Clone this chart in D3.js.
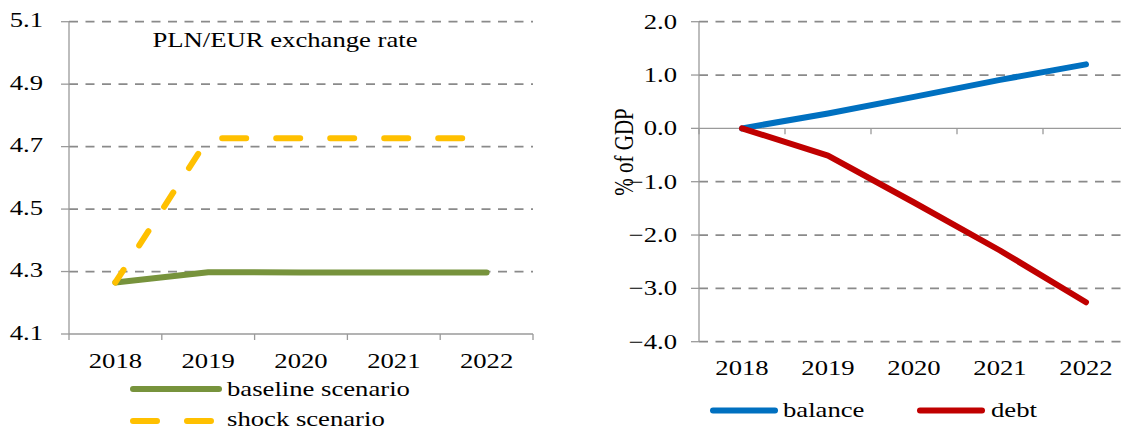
<!DOCTYPE html>
<html><head><meta charset="utf-8">
<script src="https://cdn.jsdelivr.net/npm/d3@7"></script>
<style>
html,body{margin:0;padding:0;background:#fff;}
svg{display:block;font-family:"Liberation Serif","Times New Roman",serif;}
</style></head>
<body>
<svg id="chart" width="1121" height="430"></svg>
<script>
// ---- data ----
const years = ["2018","2019","2020","2021","2022"];
const baseline = [4.265, 4.298, 4.297, 4.297, 4.297];
const shock = [4.265, 4.727, 4.727, 4.727, 4.727];
const leftTicks = [4.1, 4.3, 4.5, 4.7, 4.9, 5.1];
const balance = [0.0, 0.28, 0.59, 0.91, 1.2];
const debt = [0.0, -0.51, -1.39, -2.29, -3.26];
const rightTicks = [-4, -3, -2, -1, 0, 1, 2];

const svg = d3.select("#chart");
const SX = 1.27, FS = 21;
const gridColor = "#8a8a8a", axisColor = "#9a9a9a";

function stext(g, x, y, str, anchor, rot) {
  const gg = g.append("g").attr("transform", `translate(${x},${y}) scale(${SX},1)` + (rot ? ` rotate(${rot})` : ""));
  gg.append("text").attr("text-anchor", anchor || "start").attr("font-size", FS).attr("fill", "#000").text(str);
  return gg;
}

// ---- left chart ----
const L = svg.append("g");
const xL = d3.scaleBand().domain(years).range([69, 533]);
const yL = d3.scaleLinear().domain([4.1, 5.1]).range([334, 21.7]);
const cxL = d => xL(d) + xL.bandwidth() / 2;

L.selectAll(".grid").data(leftTicks.filter(t => t > 4.1)).join("line")
  .attr("x1", 69).attr("x2", 533).attr("y1", d => yL(d)).attr("y2", d => yL(d))
  .attr("stroke", gridColor).attr("stroke-width", 1.8).attr("stroke-dasharray", "9,7.5");
L.append("line").attr("x1", 69).attr("x2", 69).attr("y1", yL(5.1)).attr("y2", yL(4.1))
  .attr("stroke", axisColor).attr("stroke-width", 1.3);
L.selectAll(".yt").data(leftTicks).join("line")
  .attr("x1", 61).attr("x2", 69).attr("y1", d => yL(d)).attr("y2", d => yL(d))
  .attr("stroke", axisColor).attr("stroke-width", 1.3);
leftTicks.forEach(t => stext(L, 43, yL(t) + 5.5, d3.format(".1f")(t), "end"));
L.append("line").attr("x1", 69).attr("x2", 533).attr("y1", yL(4.1)).attr("y2", yL(4.1))
  .attr("stroke", axisColor).attr("stroke-width", 1.3);
const bL = years.map(y => xL(y)).concat([xL.range()[1]]);
L.selectAll(".xt").data(bL).join("line")
  .attr("x1", d => d).attr("x2", d => d).attr("y1", yL(4.1)).attr("y2", yL(4.1) + 6)
  .attr("stroke", axisColor).attr("stroke-width", 1.3);
years.forEach(y => stext(L, cxL(y), 368, y, "middle"));

stext(L, 285, 46.5, "PLN/EUR exchange rate", "middle");

const lineL = d3.line().x(d => cxL(d[0])).y(d => yL(d[1]));
const basePts = years.map((y, i) => [y, baseline[i]]);
const shockPts = years.map((y, i) => [y, shock[i]]);
L.append("path").attr("d", lineL(basePts)).attr("fill", "none")
  .attr("stroke", "#77933C").attr("stroke-width", 6).attr("stroke-linecap", "round").attr("stroke-linejoin", "round");
L.append("path").attr("d", lineL(shockPts.slice(0, 2))).attr("fill", "none")
  .attr("stroke", "#FFC000").attr("stroke-width", 6).attr("stroke-linecap", "round")
  .attr("stroke-dasharray", "17,29").attr("stroke-dashoffset", 2);
L.append("path").attr("d", lineL(shockPts.slice(1))).attr("fill", "none")
  .attr("stroke", "#FFC000").attr("stroke-width", 6).attr("stroke-linecap", "round")
  .attr("stroke-dasharray", "24,30").attr("stroke-dashoffset", 40);

L.append("line").attr("x1", 133).attr("x2", 219).attr("y1", 389).attr("y2", 389)
  .attr("stroke", "#77933C").attr("stroke-width", 6).attr("stroke-linecap", "round");
stext(L, 227, 396, "baseline scenario", "start");
L.append("line").attr("x1", 133).attr("x2", 219).attr("y1", 421).attr("y2", 421)
  .attr("stroke", "#FFC000").attr("stroke-width", 6).attr("stroke-linecap", "round")
  .attr("stroke-dasharray", "24,30");
stext(L, 227, 426, "shock scenario", "start");

// ---- right chart ----
const R = svg.append("g");
const xR = d3.scaleBand().domain(years).range([699, 1129]);
const yR = d3.scaleLinear().domain([-4, 2]).range([341.7, 21.7]);
const cxR = d => xR(d) + xR.bandwidth() / 2;

R.selectAll(".grid").data(rightTicks.filter(t => t !== 0)).join("line")
  .attr("x1", 699).attr("x2", 1129).attr("y1", d => yR(d)).attr("y2", d => yR(d))
  .attr("stroke", gridColor).attr("stroke-width", 1.8).attr("stroke-dasharray", "9,7.5");
R.append("line").attr("x1", 699).attr("x2", 699).attr("y1", yR(2)).attr("y2", yR(-4))
  .attr("stroke", axisColor).attr("stroke-width", 1.3);
R.selectAll(".yt").data(rightTicks).join("line")
  .attr("x1", 691).attr("x2", 699).attr("y1", d => yR(d)).attr("y2", d => yR(d))
  .attr("stroke", axisColor).attr("stroke-width", 1.3);
rightTicks.forEach(t => stext(R, 677, yR(t) + 7, d3.format(".1f")(t), "end"));
R.append("line").attr("x1", 699).attr("x2", 1129).attr("y1", yR(0)).attr("y2", yR(0))
  .attr("stroke", axisColor).attr("stroke-width", 1.3);
const bR = years.map(y => xR(y)).concat([xR.range()[1]]);
R.selectAll(".xt").data(bR).join("line")
  .attr("x1", d => d).attr("x2", d => d).attr("y1", yR(0)).attr("y2", yR(0) + 6)
  .attr("stroke", axisColor).attr("stroke-width", 1.3);
years.forEach(y => stext(R, cxR(y), 375, y, "middle"));
stext(R, 633, 152, "% of GDP", "middle", -90);

const lineR = d3.line().x(d => cxR(d[0])).y(d => yR(d[1]));
R.append("path").attr("d", lineR(years.map((y, i) => [y, balance[i]]))).attr("fill", "none")
  .attr("stroke", "#0070C0").attr("stroke-width", 6).attr("stroke-linecap", "round").attr("stroke-linejoin", "round");
R.append("path").attr("d", lineR(years.map((y, i) => [y, debt[i]]))).attr("fill", "none")
  .attr("stroke", "#C00000").attr("stroke-width", 6).attr("stroke-linecap", "round").attr("stroke-linejoin", "round");

R.append("line").attr("x1", 713).attr("x2", 775).attr("y1", 410.5).attr("y2", 410.5)
  .attr("stroke", "#0070C0").attr("stroke-width", 6).attr("stroke-linecap", "round");
stext(R, 783, 417, "balance", "start");
R.append("line").attr("x1", 920).attr("x2", 982).attr("y1", 410.5).attr("y2", 410.5)
  .attr("stroke", "#C00000").attr("stroke-width", 6).attr("stroke-linecap", "round");
stext(R, 991, 417, "debt", "start");
</script>
</body></html>
